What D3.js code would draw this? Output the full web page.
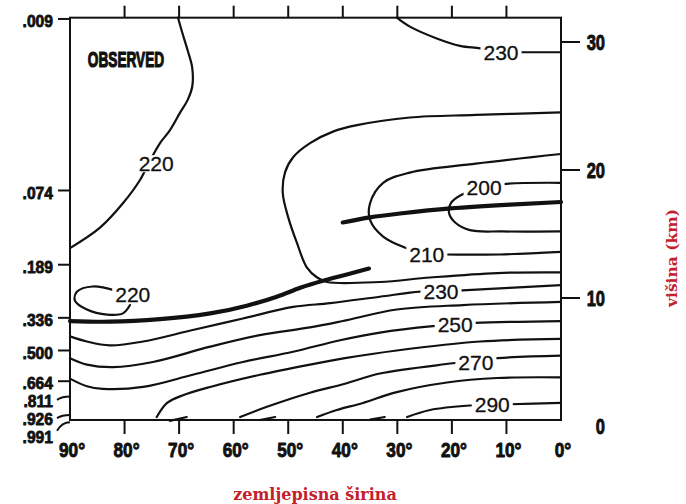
<!DOCTYPE html>
<html><head><meta charset="utf-8">
<script src="https://cdn.jsdelivr.net/npm/d3@7"></script>
<style>
body{margin:0;background:#fff;}
svg{display:block;}
</style></head><body>
<svg id="chart" width="686" height="504"></svg>
<script>
// ---------- data ----------
const latTicks = [90, 80, 70, 60, 50, 40, 30, 20, 10, 0];
const kmTicks = [30, 20, 10, 0];
const sigmaLabels = [".009", ".074", ".189", ".336", ".500", ".664", ".811", ".926", ".991"];
const sigmaKm = [31.8, 18.4, 12.6, 8.45, 5.9, 3.5, 2.3, 0.86, 0.3];

// isotherms [latitude, km]
const c220a = [[70.2,31.9],[69.4,30.7],[68.4,29.3],[67.6,28.0],[67.6,26.5],[68.4,25.5],[69.8,24.5],[71.7,23.1],[73.5,22.1],[75.5,20.6],[77.2,19.2],[80.3,17.4],[84.5,15.5],[90,13.9]];
const c230a = [[30.1,31.9],[27.7,31.2],[22.9,30.3],[18.5,29.7],[14.8,29.5],[11.0,29.2],[7.3,29.2],[0,29.2]];
const c220b = [[0,24.5],[15.6,24.3],[27.7,24.1],[37.4,23.5],[41.8,23.0],[46.0,22.1],[49.1,21.0],[50.6,19.8],[51.0,18.2],[50.0,16.3],[48.4,14.3],[46.6,12.4],[44.7,11.6],[42.9,11.25],[33.2,11.25],[24.0,11.6],[11.7,11.95],[0,12.0]];
const c210 = [[0,21.25],[15.6,20.5],[27.7,19.8],[32.6,19.0],[35.0,17.4],[35.0,16.1],[32.6,14.8],[28.4,13.9],[24.6,13.4],[21.3,13.4],[11.2,13.4],[0,13.6]];
const c200 = [[0,19.0],[10.6,18.9],[14.1,18.6],[18.3,18.05],[20.2,17.4],[20.5,16.6],[19.4,15.9],[16.7,15.3],[10.6,15.2],[0,15.2]];
const c220c = [[81.8,10.6],[85.8,10.9],[88.7,10.5],[89.1,9.8],[86.9,9.1],[83.2,8.7],[80.3,8.8],[79.0,9.45]];
const c230b = [[90,7.0],[86.9,6.6],[82.7,6.3],[76.6,6.6],[67.5,7.5],[58.3,8.4],[49.1,9.3],[42.3,9.6],[33.2,10.1],[25.8,10.5],[22.0,10.5],[18.1,10.6],[0,11.0]];
const c240 = [[90,5.3],[86.9,4.8],[82.1,4.6],[74.8,5.0],[64.3,6.2],[55.2,7.1],[46.0,7.7],[40.0,8.2],[30.1,9.1],[18.0,9.45],[0,9.7]];
const c250 = [[90,3.7],[86.9,3.1],[84.0,2.9],[76.6,3.05],[67.5,4.0],[58.3,5.0],[49.1,5.8],[40.5,6.7],[33.2,7.3],[23.5,7.8],[15.8,8.05],[0,8.2]];
const c260 = [[74.1,0.7],[72.2,1.8],[69.3,2.4],[64.3,3.05],[55.2,4.0],[46.0,4.8],[39.6,5.3],[30.1,5.9],[14.8,6.6],[0,6.8]];
const c270 = [[58.8,0.7],[53.9,1.5],[46.0,2.6],[39.6,3.3],[33.2,4.1],[19.8,4.9],[11.7,5.3],[0,5.5]];
const c280 = [[44.7,0.7],[41.1,1.25],[36.3,1.8],[30.1,2.65],[20.9,3.4],[11.7,3.75],[0,3.8]];
const c290 = [[28.2,0.7],[24.0,1.25],[16.7,1.6],[12.6,1.65],[9.3,1.7],[0,1.8]];
const groundBits = [[[71.7,0.4],[68.6,0.7]], [[55.2,0.47],[52.4,0.7]], [[35.0,0.5],[32.3,0.7]]];
// tropopause (thick)
const trop1 = [[40.0,15.9],[35.0,16.3],[29.5,16.6],[20.3,17.0],[9.3,17.3],[0,17.5]];
const trop2 = [[90,8.2],[82.7,8.15],[73.5,8.35],[64.3,8.8],[57.6,9.4],[52.1,10.1],[47.8,10.8],[43.6,11.35],[39.6,11.8],[35.2,12.3]];

const labelText = ["220", "230", "200", "210", "220", "230", "250", "270", "290"];
const labelLat  = [74.2, 11.0, 14.1, 24.6, 78.5, 22.0, 19.4, 15.6, 12.6];
const labelKm   = [20.5, 29.2, 18.6, 13.4, 10.3, 10.5, 7.9, 5.0, 1.65];

const panelTitle = "OBSERVED";
const xTitle = "zemljepisna širina";
const yTitle = "višina (km)";

// ---------- drawing ----------
const svg = d3.select("#chart");
const x = d3.scaleLinear().domain([90, 0]).range([70, 561]);
const y = d3.scaleLinear().domain([0, 30]).range([426, 42]);
const kmTop = 31.9, kmBot = 0.47;
const sigmaY = d3.scaleLinear().domain(d3.range(sigmaLabels.length)).range(sigmaKm.map(k => y(k)));

const line = d3.line().x(d => x(d[0])).y(d => y(d[1])).curve(d3.curveCatmullRom.alpha(0.5));
const smooth = d3.line().x(d => x(d[0])).y(d => y(d[1])).curve(d3.curveNatural);
const gC = svg.append("g").attr("fill", "none").attr("stroke", "#111").attr("stroke-linecap", "round").attr("stroke-linejoin", "round");

[c220a, c230a, c220b, c210, c200, c220c, c230b, c240, c250, c260, c270, c280, c290].forEach(c => {
  gC.append("path").attr("d", line(c)).attr("stroke-width", 2.2);
});
groundBits.forEach(c => gC.append("path").attr("d", d3.line().x(d => x(d[0])).y(d => y(d[1]))(c)).attr("stroke-width", 2.2));
[trop1, trop2].forEach(c => gC.append("path").attr("d", smooth(c)).attr("stroke-width", 4.2));

// contour labels with white knock-out
const gL = svg.append("g");
labelText.forEach((t, i) => {
  const g = gL.append("g");
  const txt = g.append("text")
    .attr("x", x(labelLat[i])).attr("y", y(labelKm[i])).attr("dy", "0.36em")
    .attr("text-anchor", "middle")
    .style("font-family", "'Liberation Sans', Arial, sans-serif").style("font-size", "21px")
    .attr("fill", "#111").attr("stroke", "#111").attr("stroke-width", 0.3).text(t);
  const b = txt.node().getBBox();
  g.insert("rect", "text").attr("x", b.x - 3).attr("y", b.y + 3).attr("width", b.width + 6).attr("height", b.height - 6).attr("fill", "#fff");
});

// frame
const gF = svg.append("g").attr("stroke", "#111").attr("stroke-width", 2).attr("fill", "none");
gF.append("rect").attr("x", x(90)).attr("y", y(kmTop)).attr("width", x(0) - x(90)).attr("height", y(kmBot) - y(kmTop));
latTicks.filter(d => d !== 90 && d !== 0).forEach(d => {
  gF.append("line").attr("x1", x(d)).attr("x2", x(d)).attr("y1", y(kmTop)).attr("y2", y(kmTop) - 12);
  gF.append("line").attr("x1", x(d)).attr("x2", x(d)).attr("y1", y(kmBot)).attr("y2", y(kmBot) + 14);
});
kmTicks.filter(d => d > 0).forEach(d => {
  gF.append("line").attr("x1", x(0)).attr("x2", x(0) + 19).attr("y1", y(d)).attr("y2", y(d));
});

const boldFont = "'Liberation Sans', Arial, sans-serif";
function boldText(sel, size, w) {
  return sel.style("font-family", boldFont).style("font-weight", "bold").style("font-size", size + "px")
    .attr("fill", "#111").attr("stroke", "#111").attr("stroke-width", w).attr("stroke-linejoin", "round");
}
// x tick labels
latTicks.forEach(d => {
  boldText(svg.append("text").attr("transform", `translate(${x(d) + 2},${457}) scale(0.82,1)`)
    .attr("text-anchor", "middle"), 21, 0.9).text(d + "°");
});
// right km labels
kmTicks.forEach(d => {
  boldText(svg.append("text").attr("transform", `translate(605,${y(d)}) scale(0.75,1)`).attr("dy", "0.36em")
    .attr("text-anchor", "end"), 22, 0.9).text(d);
});
// left sigma labels
let prev = -100;
sigmaLabels.forEach((s, i) => {
  const ty = sigmaY(i);
  const ly = Math.max(ty + 2, prev + 18);
  prev = ly;
  if (ly - ty > 4) {
    gF.append("path").attr("d", `M${x(90)},${ty} Q${x(90) - 8},${ty} ${x(90) - 13},${(ty + ly) / 2 + 1}`);
  } else {
    gF.append("line").attr("x1", x(90) - 12).attr("x2", x(90)).attr("y1", ty).attr("y2", ty);
  }
  boldText(svg.append("text").attr("transform", `translate(53,${ly}) scale(0.92,1)`).attr("dy", "0.36em")
    .attr("text-anchor", "end"), 17, 0.8).text(s);
});

// panel title
boldText(svg.append("text").attr("transform", `translate(126,67) scale(0.62,1)`)
  .attr("text-anchor", "middle"), 22, 1.2).text(panelTitle);

// axis titles
const red = "#c4202c";
svg.append("text").attr("x", 315).attr("y", 500).attr("text-anchor", "middle")
  .style("font-family", "'DejaVu Serif', serif").style("font-weight", "bold").style("font-size", "16px")
  .attr("fill", red).text(xTitle);
svg.append("text").attr("transform", "translate(677,258) rotate(-90)").attr("text-anchor", "middle")
  .style("font-family", "'DejaVu Serif', serif").style("font-weight", "bold").style("font-size", "15.5px")
  .attr("fill", red).text(yTitle);
</script>
</body></html>
